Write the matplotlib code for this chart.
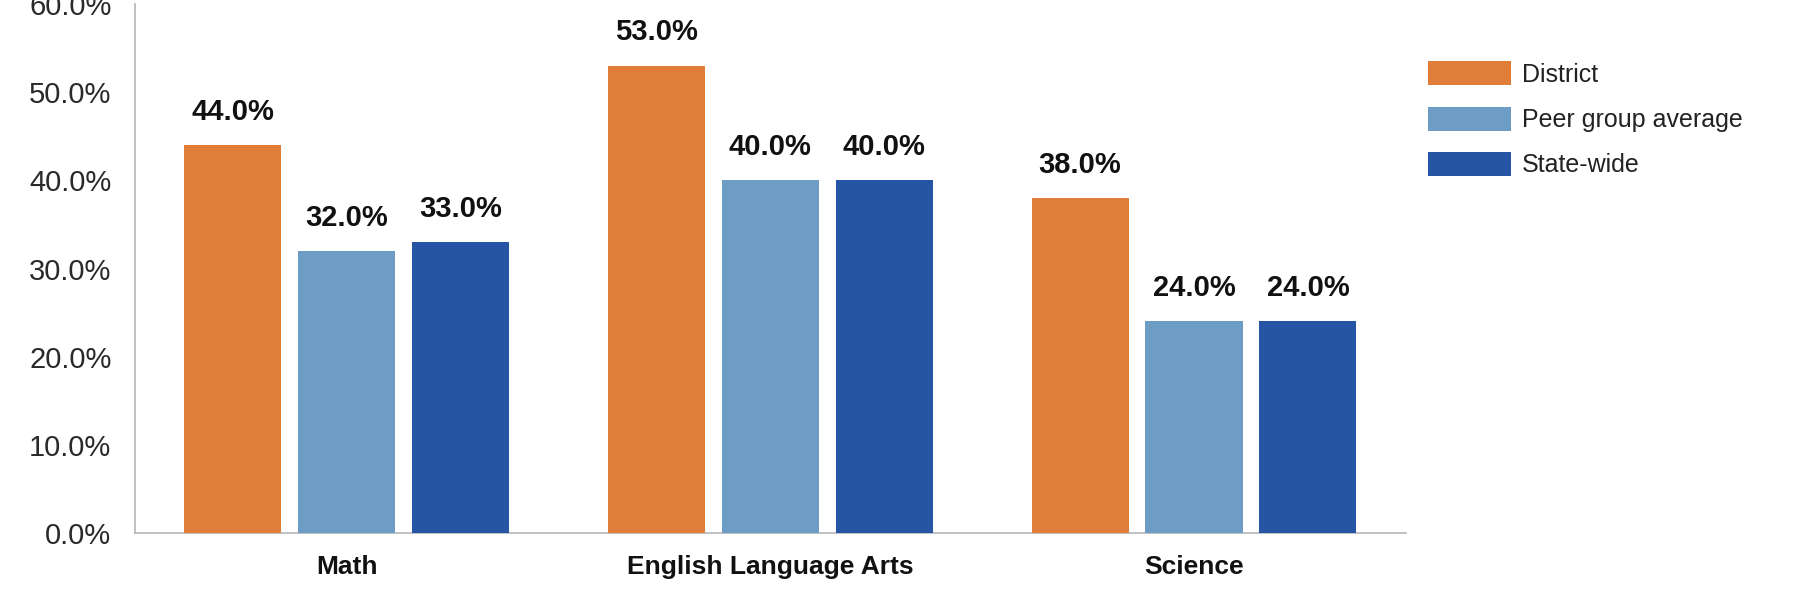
import numpy as np
import matplotlib.pyplot as plt

categories = ["Math", "English Language Arts", "Science"]
series_names = ["District", "Peer group average", "State-wide"]
district = [44.0, 53.0, 38.0]
peer_avg = [32.0, 40.0, 24.0]
state_wide = [33.0, 40.0, 24.0]
y_ticks = [0, 10, 20, 30, 40, 50, 60]

series_colors = {
    "District": "#E07D38",
    "Peer group average": "#6D9DC5",
    "State-wide": "#2755A6",
}

plt.rcParams.update({
    "font.family": ["Liberation Sans", "DejaVu Sans"],
})

fig = plt.figure(figsize=(18, 6), dpi=100)
ax = fig.add_axes([0.075, 0.1117, 0.706, 0.8816])

x = np.arange(len(categories))
bar_w = 0.229
step = 0.269
offsets = [-step, 0, step]

for i, (name, vals) in enumerate(zip(series_names, [district, peer_avg, state_wide])):
    bars = ax.bar(x + offsets[i], vals, width=bar_w, color=series_colors[name],
                  label=name, zorder=3)
    for b, v in zip(bars, vals):
        ax.annotate(f"{v:.1f}%", (b.get_x() + b.get_width() / 2, v),
                    xytext=(0, 24), textcoords="offset points",
                    ha="center", va="center", fontsize=21, fontweight="bold",
                    color="#111111")

ax.set_xlim(-0.5, 2.5)
ax.set_ylim(0, 60)
ax.set_yticks(y_ticks)
ax.set_yticklabels([f"{t:.1f}%" for t in y_ticks])
ax.set_xticks(x)
ax.set_xticklabels(categories, fontweight="bold")

ax.tick_params(axis="y", length=0, pad=17, labelsize=21, labelcolor="#2a2a2a")
ax.tick_params(axis="x", length=0, pad=16, labelsize=19, labelcolor="#111111")

for side in ["top", "right"]:
    ax.spines[side].set_visible(False)
ax.spines["left"].set_color("#b5b5b5")
ax.spines["bottom"].set_color("#b5b5b5")
ax.spines["left"].set_linewidth(1.2)
ax.spines["bottom"].set_linewidth(1.2)

leg = ax.legend(loc="upper left", bbox_to_anchor=(0.788, 0.915),
                bbox_transform=fig.transFigure, frameon=False,
                fontsize=18, handlelength=3.3, handleheight=1.1,
                labelspacing=0.8, handletextpad=0.45, borderaxespad=0)
for t in leg.get_texts():
    t.set_color("#222222")

fig.savefig("out.png", dpi=100, facecolor="white")
